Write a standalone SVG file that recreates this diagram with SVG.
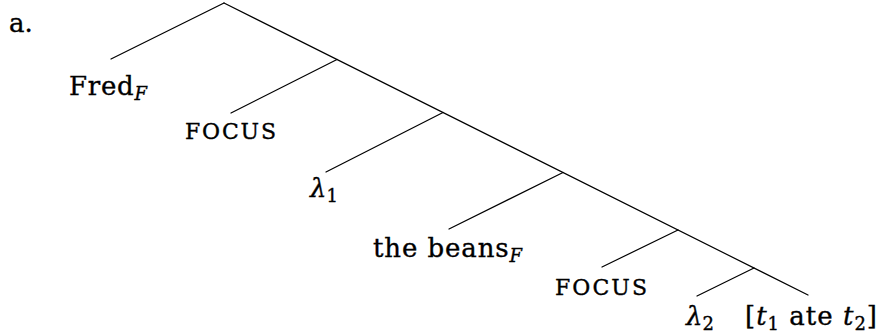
<svg xmlns="http://www.w3.org/2000/svg" width="878" height="333" viewBox="0 0 878 333">
<style>
text{font-family:"DejaVu Serif","Liberation Serif",serif;font-size:26px;fill:#000;stroke:#000;stroke-width:0.35}
.lab{text-anchor:middle}
.sub{font-size:18px}
.it{font-style:italic}
.sc{font-size:22px}
.edge{stroke:#000;stroke-width:1.2;fill:none;stroke-linecap:round}
</style>
<rect width="878" height="333" fill="#fff"/>
<text x="9" y="32" font-size="27">a.</text>
<g id="connectors">
<line class="edge" x1="224" y1="3" x2="808" y2="295"/>
<line class="edge" x1="224" y1="3" x2="111" y2="59"/>
<line class="edge" x1="337" y1="59.5" x2="231" y2="113"/>
<line class="edge" x1="443" y1="112.5" x2="326" y2="172"/>
<line class="edge" x1="563" y1="172.5" x2="449" y2="229"/>
<line class="edge" x1="678" y1="230" x2="602" y2="267"/>
<line class="edge" x1="754" y1="268" x2="697" y2="296"/>
</g>
<g id="n-fred"><text class="lab" x="108" y="95" textLength="78">Fred<tspan class="sub it" dy="5">F</tspan></text></g>
<g id="n-focus1"><text class="lab sc" x="230.5" y="139" textLength="91" lengthAdjust="spacing">FOCUS</text></g>
<g id="n-lambda1"><text class="lab" x="324" y="197"><tspan class="it">λ</tspan><tspan class="sub" dy="5">1</tspan></text></g>
<g id="n-beans"><text class="lab" x="447.5" y="257" textLength="149">the beans<tspan class="sub it" dy="5">F</tspan></text></g>
<g id="n-focus2"><text class="lab sc" x="601" y="295" textLength="92" lengthAdjust="spacing">FOCUS</text></g>
<g id="n-lambda2"><text class="lab" x="700" y="325"><tspan class="it">λ</tspan><tspan class="sub" dy="5">2</tspan></text></g>
<g id="n-tp"><text class="lab" x="811" y="325" textLength="132">[<tspan class="it">t</tspan><tspan class="sub" dy="5">1</tspan><tspan dy="-5"> ate </tspan><tspan class="it">t</tspan><tspan class="sub" dy="5">2</tspan><tspan dy="-5">]</tspan></text></g>
</svg>
